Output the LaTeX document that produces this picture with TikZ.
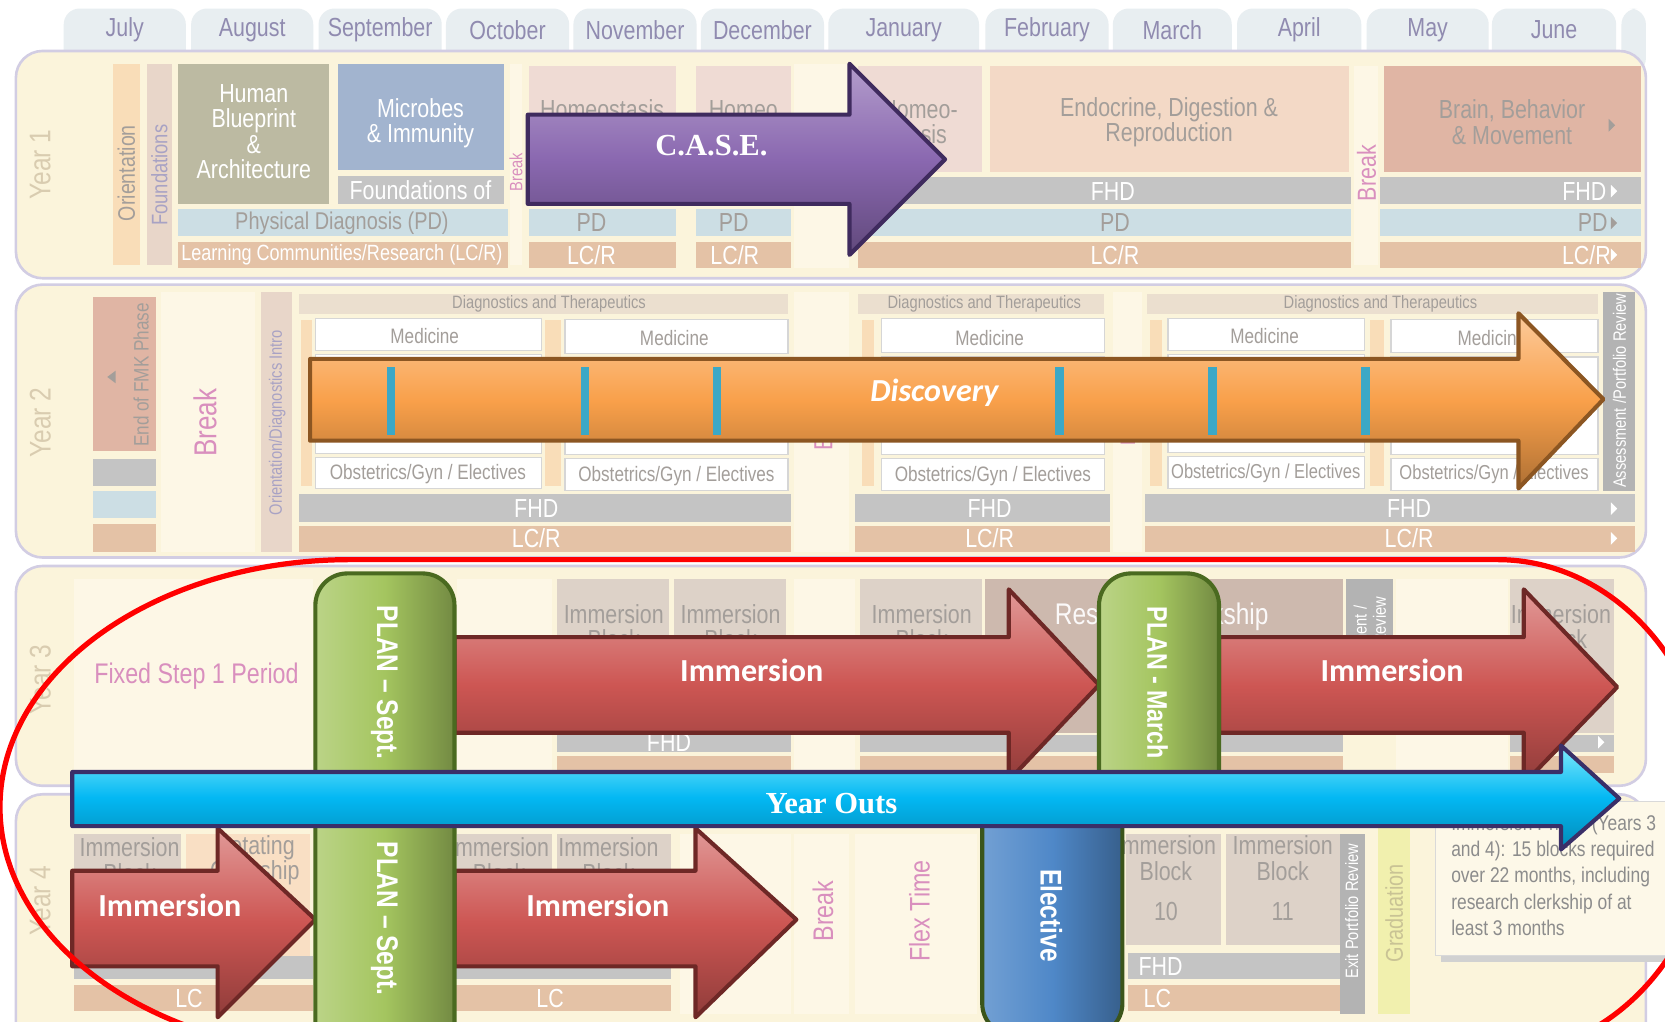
\documentclass[tikz,border=0pt]{standalone}
\usepackage{fontspec}
\setmainfont{Liberation Sans}
\newfontfamily\narrow[FakeStretch=0.82]{Liberation Sans}
\newfontfamily\calib{Carlito}
\newfontfamily\timesb{Liberation Serif}

% faded background colours
\definecolor{cTab}{HTML}{E8EEF1}
\definecolor{cMonth}{HTML}{908BB0}
\definecolor{cYearBg}{HTML}{FBF4DB}
\definecolor{cYearLine}{HTML}{D2CDE3}
\definecolor{cYearT}{HTML}{D9CCB0}
\definecolor{cCream}{HTML}{FDF7E6}
\definecolor{cOrient}{HTML}{F9DDB8}
\definecolor{cTanL}{HTML}{E8D6C9}
\definecolor{cOlive}{HTML}{BCBAA2}
\definecolor{cSteel}{HTML}{A2B4CF}
\definecolor{cGrey}{HTML}{C4C4C4}
\definecolor{cBlueL}{HTML}{CCDEE4}
\definecolor{cTanD}{HTML}{E4C2A6}
\definecolor{cPinkL}{HTML}{EFDBD4}
\definecolor{cPeach}{HTML}{F3D9C6}
\definecolor{cSalmon}{HTML}{E0B5A4}
\definecolor{cGreyT}{HTML}{A39E9A}
\definecolor{cLavT}{HTML}{A8A2C4}
\definecolor{cPinkT}{HTML}{D98FBE}
\definecolor{cDiag}{HTML}{EBDFCF}
\definecolor{cGreyM}{HTML}{B3B3B3}
\definecolor{cTile}{HTML}{DDD2C8}
\definecolor{cTileD}{HTML}{CDB9AE}
\definecolor{cRot}{HTML}{F9DFC4}
\definecolor{cGrad}{HTML}{F1F0AE}
\definecolor{cGradT}{HTML}{C9C395}
\definecolor{cNote}{HTML}{FDF8E8}
% overlay colours
\definecolor{cCase}{HTML}{8A68B0}
\definecolor{cCaseD}{HTML}{3F2B5E}
\definecolor{cDisc}{HTML}{F9A04A}
\definecolor{cDiscD}{HTML}{8C5622}
\definecolor{cStripe}{HTML}{3CA8C6}
\definecolor{cImm}{HTML}{CD5653}
\definecolor{cImmD}{HTML}{6E2826}
\definecolor{cPlan}{HTML}{A4C55F}
\definecolor{cPlanD}{HTML}{4A6A20}
\definecolor{cElec}{HTML}{4F88C8}
\definecolor{cOuts}{HTML}{03B8F3}
\definecolor{cOutsD}{HTML}{3A2F68}
\definecolor{cRing}{HTML}{FF0000}

\tikzset{
  cell/.style={inner sep=0pt, align=center, font=\narrow\fontsize{7}{6.8}\selectfont},
  wtxt/.style={cell, text=white},
  gtxt/.style={cell, text=cGreyT},
  ptxt/.style={cell, text=cPinkT},
  smallfont/.style={font=\narrow\fontsize{5.6}{6}\selectfont},
  xsmall/.style={font=\narrow\fontsize{4.8}{5.2}\selectfont},
  yearlbl/.style={cell, text=cYearT, rotate=90, font=\narrow\fontsize{8}{9}\selectfont},
  yearbox/.style={fill=cYearBg, draw=cYearLine, line width=0.7pt, rounded corners=2.5mm},
  medbox/.style={fill=white, draw=cGrey!70, line width=0.4pt},
  rtri/.pic={\fill (-3,-6) -- (3,0) -- (-3,6) -- cycle;},
  bigarrow/.style={line width=1.1pt, line join=round},
  casearrow/.style={bigarrow, draw=cCaseD, top color=cCase!65!white, bottom color=cCase!70!black, middle color=cCase},
  discarrow/.style={bigarrow, draw=cDiscD, top color=cDisc!55!white, bottom color=cDisc!70!black, middle color=cDisc},
  immarrow/.style={bigarrow, draw=cImmD, top color=cImm!60!white, bottom color=cImm!70!black, middle color=cImm},
  outsarrow/.style={bigarrow, draw=cOutsD, top color=cOuts!60!cyan!50!white, bottom color=cOuts!75!black, middle color=cOuts},
  planbar/.style={draw=cPlanD, line width=1.1pt, rounded corners=3mm, left color=cPlan!75!white, right color=cPlan!70!black, middle color=cPlan},
  elecbar/.style={draw=cPlanD!80!black, line width=1.1pt, rounded corners=3mm, left color=cElec!80!white, right color=cElec!70!black, middle color=cElec},
  arrtxt/.style={text=white, inner sep=0pt, font=\calib\bfseries\fontsize{8.6}{10}\selectfont},
  bartxt/.style={text=white, inner sep=0pt, rotate=-90, font=\narrow\bfseries\fontsize{8}{9}\selectfont},
  serifbold/.style={text=white, inner sep=0pt, font=\timesb\bfseries\fontsize{8.2}{10}\selectfont},
  ring/.style={draw=cRing, line width=1.4pt}
}

\begin{document}
\begin{tikzpicture}[x=0.1mm, y=-0.1mm]
\useasboundingbox (0,0) rectangle (1568,962);
\clip (0,0) rectangle (1568,962);
\fill[white] (0,0) rectangle (1568,962);

% month tabs
\foreach \xa/\xb/\mname in {60/175/July, 180/295/August, 300/416/September, 420/536/October, 540/656/November, 660/776/December, 780/922/January, 928/1044/February, 1048/1160/March, 1165/1282/April, 1287/1402/May, 1405/1522/June}{
  \fill[cTab, rounded corners=1.5mm] (\xa,8) rectangle (\xb,70);
  \node[cell, text=cMonth] (m\mname) at ({(\xa+\xb)/2},28) {\mname};
}
\fill[cTab, rounded corners=1.5mm] (1527,8) rectangle (1550,70);

%% Year 1
\draw[yearbox] (15,48) rectangle (1550,262);
\node[yearlbl] (y1) at (38,155) {Year 1};
\fill[cOrient] (106,60) rectangle (132,250);
\node[gtxt, rotate=90, font=\narrow\fontsize{6.4}{7}\selectfont] (orient1) at (119,163) {Orientation};
\fill[cTanL] (138,60) rectangle (162,250);
\node[cell, text=cLavT, rotate=90, font=\narrow\fontsize{6}{7}\selectfont] (found1) at (150,165) {Foundations};
\fill[cOlive] (168,60) rectangle (310,192);
\node[wtxt] (hba) at (239,124) {Human\\Blueprint\\\&\\Architecture};
\fill[cSteel] (318,60) rectangle (475,160);
\node[wtxt] (micro) at (396,116) {Microbes\\\& Immunity};
\fill[cGrey] (318,166) rectangle (475,192);
\node[wtxt] (fndof) at (396,179) {Foundations of};
\fill[cCream] (480,60) rectangle (492,250);
\node[ptxt, rotate=90, xsmall] (brk1) at (486,162) {Break};
\fill[cBlueL] (168,197) rectangle (478,222);
\node[gtxt, font=\narrow\fontsize{6.5}{7}\selectfont] (pd1) at (322,210) {Physical Diagnosis (PD)};
\fill[cTanD] (168,228) rectangle (478,252);
\node[wtxt, font=\narrow\fontsize{5.9}{7}\selectfont] (lcr1) at (322,240) {Learning Communities/Research (LC/R)};
\fill[cPinkL] (498,62) rectangle (637,162);
\node[gtxt] (homeo1) at (567,103) {Homeostasis};
\fill[cPinkL] (655,62) rectangle (745,162);
\node[gtxt] (homeo2) at (700,103) {Homeo};
\fill[cBlueL] (498,197) rectangle (637,222);
\node[gtxt] (pd2) at (557,210) {PD};
\fill[cBlueL] (655,197) rectangle (745,222);
\node[gtxt] (pd3) at (691,210) {PD};
\fill[cTanD] (498,228) rectangle (637,252);
\node[wtxt] (lcr2) at (557,240) {LC/R};
\fill[cTanD] (655,228) rectangle (745,252);
\node[wtxt] (lcr3) at (692,240) {LC/R};
\fill[cCream] (748,60) rectangle (800,252);
\fill[cPinkL] (808,62) rectangle (925,162);
\node[gtxt] (homeo3) at (866,115) {Homeo-\\stasis};
\fill[cPeach] (932,62) rectangle (1270,162);
\node[gtxt] (endo) at (1101,115) {Endocrine, Digestion \&\\Reproduction};
\fill[cGrey] (808,167) rectangle (1272,192);
\node[wtxt] (fhd1) at (1048,180) {FHD};
\fill[cBlueL] (808,197) rectangle (1272,222);
\node[gtxt] (pd4) at (1050,210) {PD};
\fill[cTanD] (808,228) rectangle (1272,252);
\node[wtxt] (lcr4) at (1050,240) {LC/R};
\fill[cCream] (1275,62) rectangle (1298,250);
\node[ptxt, rotate=90] (brk2) at (1287,163) {Break};
\fill[cSalmon] (1303,62) rectangle (1545,162);
\node[gtxt] (brain) at (1424,115) {Brain, Behavior\\\& Movement};
\pic[cGreyT] at (1518,118) {rtri};
\fill[cGrey] (1300,167) rectangle (1545,192);
\node[wtxt] (fhd2) at (1492,180) {FHD};
\pic[white] at (1520,180) {rtri};
\fill[cBlueL] (1300,197) rectangle (1545,222);
\node[gtxt] (pd5) at (1500,210) {PD};
\pic[cGreyT] at (1520,210) {rtri};
\fill[cTanD] (1300,228) rectangle (1545,252);
\node[wtxt] (lcr5) at (1494,240) {LC/R};
\pic[white] at (1520,240) {rtri};

%% Year 2
\draw[yearbox] (15,268) rectangle (1550,525);
\node[yearlbl] (y2) at (38,398) {Year 2};
\fill[cSalmon] (88,280) rectangle (147,425);
\node[gtxt, rotate=90, smallfont] (fmk) at (133,353) {End of FMK Phase};
\fill[cGreyT] (101,355) -- (109,349) -- (109,361) -- cycle;
\fill[cGrey] (88,432) rectangle (147,458);
\fill[cBlueL] (88,462) rectangle (147,488);
\fill[cTanD] (88,493) rectangle (147,520);
\fill[cCream] (152,275) rectangle (240,520);
\node[ptxt, rotate=90, font=\narrow\fontsize{8.5}{9}\selectfont] (brk3) at (193,398) {Break};
\fill[cTanL] (246,275) rectangle (275,520);
\node[cell, text=cLavT, rotate=90, xsmall] (odi) at (261,398) {Orientation/Diagnostics Intro};
% first diagnostics block
\fill[cDiag] (282,277) rectangle (742,296);
\node[gtxt, xsmall] (dt1) at (517,286) {Diagnostics and Therapeutics};
\fill[cOrient] (283,301) rectangle (294,458);
\fill[cOrient] (513,301) rectangle (528,458);
\draw[medbox] (297,300) rectangle (510,330);
\draw[medbox] (297,334) rectangle (510,427);
\draw[medbox] (297,431) rectangle (510,460);
\node[gtxt, smallfont] (med1) at (400,316) {Medicine};
\node[gtxt, smallfont] (obs1) at (403,446) {Obstetrics/Gyn / Electives};
\draw[medbox] (532,301) rectangle (742,333);
\draw[medbox] (532,337) rectangle (742,428);
\draw[medbox] (532,432) rectangle (742,462);
\node[gtxt, smallfont] (med2) at (635,318) {Medicine};
\node[gtxt, smallfont] (obs2) at (637,448) {Obstetrics/Gyn / Electives};
\fill[cGrey] (282,465) rectangle (745,492);
\node[wtxt] (fhd3) at (505,479) {FHD};
\fill[cTanD] (282,495) rectangle (745,520);
\node[wtxt] (lcr6) at (505,507) {LC/R};
\fill[cCream] (748,275) rectangle (800,520);
\node[ptxt, rotate=90] (brk4) at (775,398) {Break};
% second diagnostics block
\fill[cDiag] (808,277) rectangle (1040,296);
\node[gtxt, xsmall] (dt2) at (927,286) {Diagnostics and Therapeutics};
\fill[cOrient] (812,301) rectangle (823,458);
\draw[medbox] (830,300) rectangle (1040,332);
\draw[medbox] (830,336) rectangle (1040,428);
\draw[medbox] (830,432) rectangle (1040,462);
\node[gtxt, smallfont] (med3) at (932,318) {Medicine};
\node[gtxt, smallfont] (obs3) at (935,448) {Obstetrics/Gyn / Electives};
\fill[cGrey] (805,465) rectangle (1045,492);
\node[wtxt] (fhd4) at (932,479) {FHD};
\fill[cTanD] (805,495) rectangle (1045,520);
\node[wtxt] (lcr7) at (932,507) {LC/R};
\fill[cCream] (1048,275) rectangle (1075,520);
\node[ptxt, rotate=90, smallfont] (brk5) at (1062,398) {Break};
% third diagnostics block
\fill[cDiag] (1080,277) rectangle (1505,296);
\node[gtxt, xsmall] (dt3) at (1300,286) {Diagnostics and Therapeutics};
\fill[cOrient] (1083,301) rectangle (1094,458);
\fill[cOrient] (1290,301) rectangle (1303,458);
\draw[medbox] (1100,300) rectangle (1285,330);
\draw[medbox] (1100,334) rectangle (1285,426);
\draw[medbox] (1100,430) rectangle (1285,460);
\node[gtxt, smallfont] (med4) at (1191,316) {Medicine};
\node[gtxt, font=\narrow\fontsize{5.4}{6}\selectfont] (obs4) at (1192,446) {Obstetrics/Gyn / Electives};
\draw[medbox] (1310,301) rectangle (1505,332);
\draw[medbox] (1310,336) rectangle (1505,428);
\draw[medbox] (1310,432) rectangle (1505,462);
\node[gtxt, smallfont] (med5) at (1405,318) {Medicine};
\node[gtxt, font=\narrow\fontsize{5.4}{6}\selectfont] (obs5) at (1407,447) {Obstetrics/Gyn / Electives};
\fill[cGrey] (1078,465) rectangle (1540,492);
\node[wtxt] (fhd5) at (1327,479) {FHD};
\pic[white] at (1520,479) {rtri};
\fill[cTanD] (1078,495) rectangle (1540,520);
\node[wtxt] (lcr8) at (1327,507) {LC/R};
\pic[white] at (1520,507) {rtri};
\fill[cGreyM] (1510,275) rectangle (1540,462);
\node[wtxt, rotate=90, xsmall] (apr) at (1525,368) {Assessment /Portfolio Review};

%% Year 3
\draw[yearbox] (15,533) rectangle (1550,740);
\node[yearlbl] (y3) at (38,640) {Year 3};
\fill[cCream] (70,545) rectangle (295,725);
\node[ptxt, font=\narrow\fontsize{7.6}{8}\selectfont] (step1) at (185,637) {Fixed Step 1 Period};
\fill[cCream] (430,545) rectangle (520,725);
\fill[cTile] (525,545) rectangle (630,690);
\node[gtxt] (ib1) at (578,590) {Immersion\\Block};
\fill[cTile] (635,545) rectangle (740,690);
\node[gtxt] (ib2) at (688,590) {Immersion\\Block};
\fill[cGrey] (525,692) rectangle (745,708);
\node[wtxt] (fhd6) at (630,699) {FHD};
\fill[cTanD] (525,712) rectangle (745,728);
\fill[cCream] (748,545) rectangle (805,725);
\fill[cTile] (810,545) rectangle (925,690);
\node[gtxt] (ib3) at (868,590) {Immersion\\Block};
\fill[cTileD] (928,545) rectangle (1265,690);
\node[cell, text=white!92!cTileD, font=\narrow\fontsize{8}{9}\selectfont] (rc) at (1094,581) {Research Clerkship};
\fill[cGrey] (810,692) rectangle (1265,708);
\fill[cTanD] (810,712) rectangle (1265,728);
\fill[cGreyM] (1268,545) rectangle (1312,690);
\node[wtxt, rotate=90, xsmall] (apr2) at (1290,612) {Assessment /\\Portfolio Review};
\fill[cCream] (1315,545) rectangle (1420,725);
\node[ptxt, rotate=90, smallfont] (brk6) at (1368,622) {Break};
\fill[cTile] (1422,545) rectangle (1520,690);
\node[gtxt] (ib4) at (1470,590) {Immersion\\Block};
\fill[cGrey] (1422,692) rectangle (1520,708);
\pic[white] at (1508,699) {rtri};
\fill[cTanD] (1422,712) rectangle (1520,728);

%% Year 4
\draw[yearbox] (15,748) rectangle (1550,1000);
\node[yearlbl] (y4) at (38,848) {Year 4};
\fill[cTile] (70,785) rectangle (170,900);
\node[gtxt] (ib5) at (122,810) {Immersion\\Block};
\fill[cRot] (175,785) rectangle (292,900);
\node[gtxt] (rot) at (240,810) {Rotating\\Clerkship};
\fill[cGrey] (70,900) rectangle (295,922);
\fill[cTanD] (70,928) rectangle (295,952);
\node[wtxt] (lc1) at (178,940) {LC};
\fill[cTile] (430,785) rectangle (520,900);
\node[gtxt] (ib6) at (470,810) {Immersion\\Block};
\fill[cTile] (525,785) rectangle (632,900);
\node[gtxt] (ib7) at (573,810) {Immersion\\Block};
\fill[cGrey] (428,900) rectangle (632,922);
\fill[cTanD] (428,928) rectangle (632,952);
\node[wtxt] (lc2) at (518,940) {LC};
\fill[cCream] (640,785) rectangle (745,955);
\fill[cCream] (748,785) rectangle (800,955);
\node[ptxt, rotate=90, font=\narrow\fontsize{7.6}{8}\selectfont] (brk7) at (775,858) {Break};
\fill[cCream] (805,785) rectangle (920,955);
\node[ptxt, rotate=90, font=\narrow\fontsize{7.6}{8}\selectfont] (flex) at (866,858) {Flex Time};
\fill[cTile] (1060,785) rectangle (1150,890);
\node[gtxt] (ib10) at (1098,808) {Immersion\\Block};
\node[gtxt] (n10) at (1098,858) {10};
\fill[cTile] (1155,785) rectangle (1265,890);
\node[gtxt] (ib11) at (1208,808) {Immersion\\Block};
\node[gtxt] (n11) at (1208,858) {11};
\fill[cGrey] (1062,897) rectangle (1265,922);
\node[wtxt] (fhd7) at (1093,910) {FHD};
\fill[cTanD] (1062,928) rectangle (1265,952);
\node[wtxt] (lc3) at (1090,940) {LC};
\fill[cGreyM] (1262,785) rectangle (1285,955);
\node[wtxt, rotate=90, xsmall] (exit) at (1273,858) {Exit Portfolio Review};
\fill[cGrad] (1298,780) rectangle (1328,955);
\node[cell, text=cGradT, rotate=90, font=\narrow\fontsize{6.5}{7}\selectfont] (grad) at (1313,860) {Graduation};
% note
\fill[black!18] (1357,761) rectangle (1580,906);
\filldraw[fill=cNote, draw=black!15] (1352,755) rectangle (1575,900);
\node[cell, text=black!45, align=left, anchor=north west, font=\narrow\fontsize{5.7}{7}\selectfont] (note) at (1366,767)
  {Immersion Phase (Years 3\\and 4): 15 blocks required\\over 22 months, including\\research clerkship of at\\least 3 months};

%% overlays
\draw[casearrow] (497,108) -- (800,108) -- (800,60) -- (890,150) -- (800,240) -- (800,192) -- (497,192) -- cycle;
\node[serifbold] (case) at (670,137) {C.A.S.E.};

\draw[discarrow] (292,338) -- (1430,338) -- (1430,295) -- (1510,376) -- (1430,460) -- (1430,415) -- (292,415) -- cycle;
\foreach \sx in {368,551,675,998,1142,1286}
  \fill[cStripe] (\sx-4,346) rectangle (\sx+4,410);
\node[arrtxt, font=\calib\bfseries\itshape\fontsize{8.6}{10}\selectfont] (disc) at (880,370) {Discovery};

\draw[immarrow] (428,600) -- (950,600) -- (950,555) -- (1035,645) -- (950,735) -- (950,690) -- (428,690) -- cycle;
\node[arrtxt] (imm1) at (708,631) {Immersion};
\draw[immarrow] (1148,600) -- (1435,600) -- (1435,555) -- (1523,647) -- (1435,738) -- (1435,690) -- (1148,690) -- cycle;
\node[arrtxt] (imm2) at (1311,631) {Immersion};
\draw[immarrow] (68,820) -- (205,820) -- (205,780) -- (297,866) -- (205,958) -- (205,910) -- (68,910) -- cycle;
\node[arrtxt] (imm3) at (160,853) {Immersion};
\draw[immarrow] (428,820) -- (655,820) -- (655,780) -- (750,866) -- (655,958) -- (655,910) -- (428,910) -- cycle;
\node[arrtxt] (imm4) at (563,853) {Immersion};

\draw[planbar] (297,540) rectangle (428,1000);
\node[bartxt] (plan1) at (362,643) {PLAN – Sept.};
\node[bartxt] (plan2) at (362,865) {PLAN – Sept.};
\draw[planbar] (1035,540) rectangle (1148,770);
\node[bartxt, font=\narrow\bfseries\fontsize{7.6}{9}\selectfont] (plan3) at (1090,643) {PLAN - March};
\draw[elecbar] (925,745) rectangle (1057,975);
\node[bartxt] (elec) at (990,862) {Elective};

\draw[outsarrow] (68,727) -- (1470,727) -- (1470,702) -- (1525,752) -- (1470,800) -- (1470,778) -- (68,778) -- cycle;
\node[serifbold] (outs) at (783,757) {Year Outs};

% red ring round years 3 and 4
\draw[ring] (330,527) -- (1410,527) arc[start angle=90, end angle=-90, x radius=20.3mm, y radius=23.3mm]
  -- (330,993) arc[start angle=270, end angle=90, x radius=33mm, y radius=23.3mm] -- cycle;
\end{tikzpicture}
\end{document}
